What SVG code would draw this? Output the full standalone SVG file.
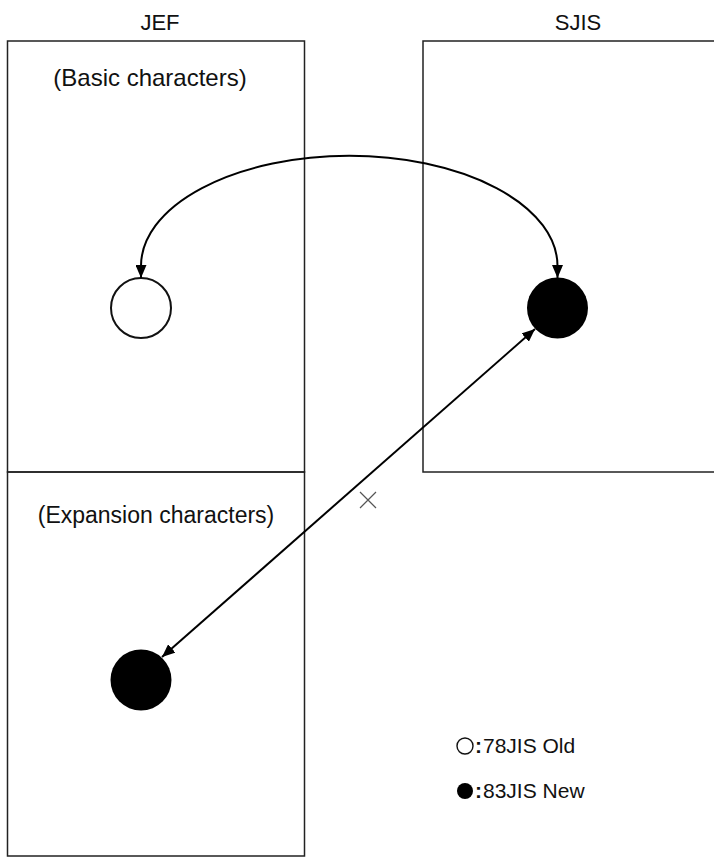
<svg xmlns="http://www.w3.org/2000/svg" width="714" height="857" viewBox="0 0 714 857">
<style>
.box{fill:none;stroke:#222;stroke-width:1.5}
.lbl{font-family:"Liberation Sans",Arial,sans-serif;fill:#111}
.head{font-size:22px}
.sub{font-size:23px}
.leg{font-size:21px}
.conn{fill:none;stroke:#000;stroke-width:2}
</style>
<defs>
<marker id="ah" viewBox="0 0 13 11" refX="13" refY="5.5" markerWidth="13" markerHeight="11" markerUnits="userSpaceOnUse" orient="auto-start-reverse">
<path d="M0,0 L13,5.5 L0,11 Z" fill="#000"/>
</marker>
</defs>
<rect width="714" height="857" fill="#fff"/>
<g id="jef">
<text class="lbl head" x="160" y="30" text-anchor="middle">JEF</text>
<rect class="box" x="7.5" y="41" width="297" height="431"/>
<text class="lbl" x="150" y="86" text-anchor="middle" font-size="24">(Basic characters)</text>
</g>
<g id="jef-exp">
<rect class="box" x="7.5" y="472" width="297" height="384"/>
<text class="lbl sub" x="156" y="523" text-anchor="middle">(Expansion characters)</text>
</g>
<g id="sjis">
<text class="lbl head" x="578" y="30" text-anchor="middle">SJIS</text>
<rect class="box" x="423" y="41" width="300" height="431"/>
</g>
<g id="jef-old"><circle cx="141" cy="308" r="30" fill="#fff" stroke="#111" stroke-width="2"/></g>
<g id="sjis-new"><circle cx="557.5" cy="308" r="30.5" fill="#000"/></g>
<g id="jef-new"><circle cx="141" cy="680" r="30.5" fill="#000"/></g>
<g id="connectors">
<path class="conn" d="M141,278 L141,266 A208,110 0 0 1 557.5,266 L557.5,278" marker-start="url(#ah)" marker-end="url(#ah)"/>
<line class="conn" x1="535" y1="329" x2="162" y2="657" marker-start="url(#ah)" marker-end="url(#ah)" stroke-width="1.7"/>
<path d="M360,492 L376,508 M376,492 L360,508" stroke="#555" stroke-width="1.2" fill="none"/>
</g>
<g id="legend">
<circle cx="465" cy="746" r="8" fill="#fff" stroke="#111" stroke-width="1.4"/>
<text class="lbl leg" x="475" y="753" font-weight="bold">:</text>
<text class="lbl leg" x="483" y="753">78JIS Old</text>
<circle cx="465" cy="791" r="8" fill="#000"/>
<text class="lbl leg" x="475" y="798" font-weight="bold">:</text>
<text class="lbl leg" x="483" y="798">83JIS New</text>
</g>
</svg>
